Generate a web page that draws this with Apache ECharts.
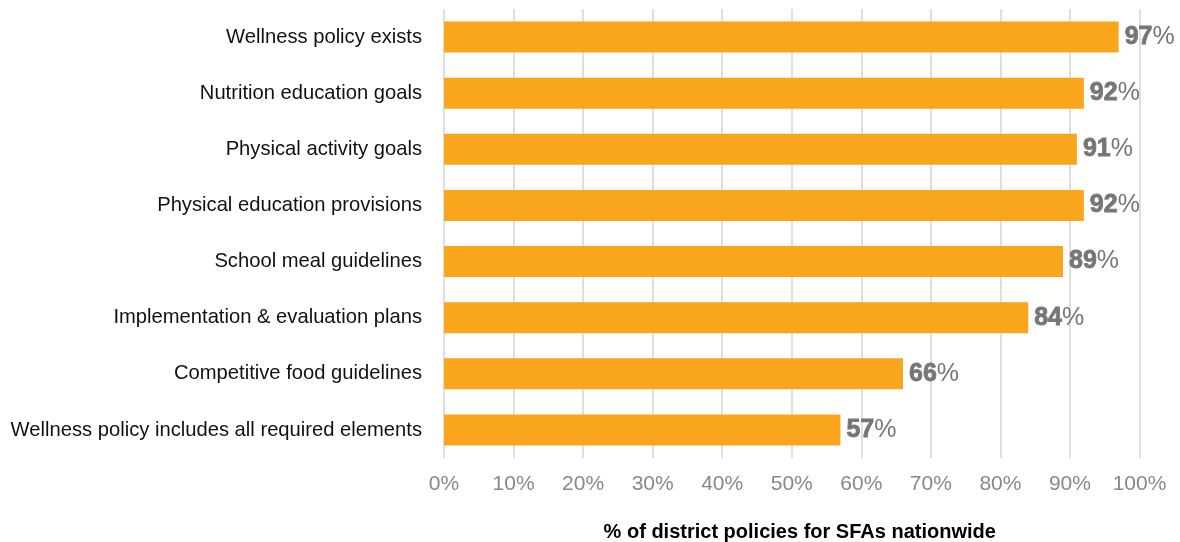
<!DOCTYPE html>
<html>
<head>
<meta charset="utf-8">
<script src="https://cdn.jsdelivr.net/npm/echarts@6/dist/echarts.min.js"></script>
<style>
  html, body { margin: 0; padding: 0; background: #fff; }
  #main { width: 1180px; height: 542px; }
</style>
</head>
<body>
<div id="main"></div>
<script>
// data, top to bottom as shown
var categories = [
    'Wellness policy exists',
    'Nutrition education goals',
    'Physical activity goals',
    'Physical education provisions',
    'School meal guidelines',
    'Implementation & evaluation plans',
    'Competitive food guidelines',
    'Wellness policy includes all required elements'
];
var values = [97, 92, 91, 92, 89, 84, 66, 57];

var chart = echarts.init(document.getElementById('main'));
var font = 'Liberation Sans, Arial, sans-serif';

var option = {
    animation: false,
    grid: { left: 444, right: 40.5, top: 9, bottom: 84, outerBoundsMode: 'none', containLabel: false },
    xAxis: {
        type: 'value',
        min: 0,
        max: 100,
        interval: 10,
        name: '% of district policies for SFAs nationwide',
        nameLocation: 'middle',
        nameGap: 64,
        nameTextStyle: { fontFamily: font, fontSize: 20, fontWeight: 'bold', color: '#000', padding: [0, 0, 0, 16] },
        axisLine: { show: false },
        axisTick: { show: false },
        axisLabel: {
            formatter: '{value}%',
            fontFamily: font, fontSize: 21, color: '#888', margin: 16
        },
        splitLine: { lineStyle: { color: '#d4d4d4', width: 1.5 } }
    },
    yAxis: {
        type: 'category',
        data: categories,
        inverse: true,
        axisLine: { show: false },
        axisTick: { show: false },
        axisLabel: { fontFamily: font, fontSize: 20.2, color: '#111', margin: 22, padding: [3, 0, 0, 0] }
    },
    series: [{
        type: 'bar',
        data: values,
        barWidth: 31,
        itemStyle: { color: '#f9a61c' },
        label: {
            show: true,
            position: 'right',
            distance: 6,
            formatter: '{n|{c}}{p|%}',
            rich: {
                n: { fontFamily: font, fontSize: 25, fontWeight: 900, color: '#767676',
                     textBorderColor: '#767676', textBorderWidth: 0.8 },
                p: { fontFamily: font, fontSize: 25, color: '#767676' }
            }
        }
    }]
};
chart.setOption(option);
</script>
</body>
</html>
